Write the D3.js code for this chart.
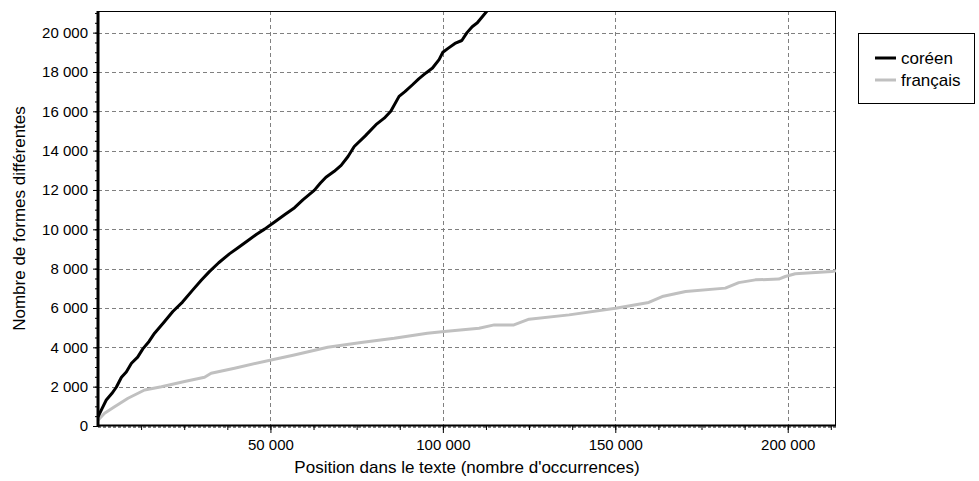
<!DOCTYPE html>
<html>
<head>
<meta charset="utf-8">
<script src="https://cdn.jsdelivr.net/npm/d3@7"></script>
<style>
body{margin:0;background:#fff;}
svg text{font-family:"Liberation Sans",Arial,sans-serif;fill:#000;}
</style>
</head>
<body>
<svg id="chart" width="979" height="481"></svg>
<script>
//courbe de richesse lexicale coréen / français

var WIDTH=979, HEIGHT=481;
var margin={left:98,top:11,right:143,bottom:55};
var TICKFONT=15, TITLEFONT=17;

//séries (position, nombre de formes)
var coreenX=[0,1200,2400,4000,5300,6800,8200,9700,11500,13000,14800,16400,19000,21700,24500,27500,30000,32300,35000,38100,40500,43400,46000,48300,51000,54100,57000,59400,62700,64500,66100,68500,70500,72500,74300,77500,80600,83000,84900,87300,89000,91200,93000,95100,97000,98900,100000,101500,103500,105500,107000,108500,110000,112800,116000];
var coreenY=[470,900,1320,1650,1970,2480,2750,3190,3500,3920,4300,4720,5250,5820,6300,6920,7420,7850,8300,8750,9050,9420,9750,10010,10350,10740,11100,11500,11980,12350,12650,12950,13250,13700,14210,14750,15320,15650,16000,16760,17000,17350,17650,17950,18200,18630,19000,19200,19450,19600,20000,20300,20500,21100,21600];

var francaisX=[0,1900,4800,8700,13500,18400,25100,30900,32800,39600,50200,56900,66600,76300,85900,95500,100400,110500,114900,120600,125000,136600,150100,159700,163600,170400,181900,185800,190600,197400,199300,202200,212800,214000];
var francaisY=[300,650,980,1410,1830,2000,2260,2480,2680,2940,3360,3610,4000,4240,4460,4720,4800,4970,5140,5140,5430,5650,5990,6280,6580,6840,7010,7290,7430,7470,7600,7740,7850,7900];

var seriesNames=["coréen","français"];
var seriesColors=["#000000","#c0c0c0"];

var xMajor=[50000,100000,150000,200000];
var yMajor=[0,2000,4000,6000,8000,10000,12000,14000,16000,18000,20000];

var xTitle="Position dans le texte (nombre d'occurrences)";
var yTitle="Nombre de formes différentes";

var svg=d3.select("#chart");
var W=WIDTH-margin.left-margin.right, H=HEIGHT-margin.top-margin.bottom;

var x=d3.scaleLinear().domain([0,214000]).range([0,W]);
var y=d3.scaleLinear().domain([0,21100]).range([H,0]);

//séparateur de milliers = espace
var fmt=d3.formatLocale({decimal:",",thousands:" ",grouping:[3],currency:["",""]}).format(",d");

var g=svg.append("g").attr("transform","translate("+margin.left+","+margin.top+")");

//grille pointillée
g.append("g").selectAll("line").data(yMajor.filter(d=>d>0)).enter().append("line")
    .attr("x1",0).attr("x2",W)
    .attr("y1",d=>Math.round(y(d))+0.5).attr("y2",d=>Math.round(y(d))+0.5)
    .attr("stroke","#808080").attr("stroke-dasharray","4,3");
g.append("g").selectAll("line").data(xMajor).enter().append("line")
    .attr("y1",0).attr("y2",H)
    .attr("x1",d=>Math.round(x(d))+0.5).attr("x2",d=>Math.round(x(d))+0.5)
    .attr("stroke","#808080").attr("stroke-dasharray","4,3");

//cadre haut / droite
g.append("line").attr("x1",0).attr("x2",W).attr("y1",0.5).attr("y2",0.5).attr("stroke","#000");
g.append("line").attr("x1",W-0.5).attr("x2",W-0.5).attr("y1",0).attr("y2",H).attr("stroke","#000");

//courbes
svg.append("clipPath").attr("id","clip").append("rect").attr("width",W).attr("height",H);
var line=d3.line().x(d=>x(d[0])).y(d=>y(d[1]));
var series=[d3.zip(coreenX,coreenY),d3.zip(francaisX,francaisY)];
g.append("g").attr("clip-path","url(#clip)").selectAll("path").data(series.slice().reverse()).enter().append("path")
    .attr("d",line)
    .attr("fill","none")
    .attr("stroke",(d,i)=>seriesColors[1-i])
    .attr("stroke-width",3)
    .attr("stroke-linejoin","round");

//axe Y
var yAxis=d3.axisLeft(y).tickValues(yMajor).tickFormat(fmt).tickSize(5).tickPadding(5);
var ya=g.append("g").call(yAxis);
ya.select(".domain").remove();
ya.selectAll("text").attr("font-size",TICKFONT).attr("font-family",null);
var yMinor=d3.axisLeft(y).tickValues(d3.range(500,21100,500)).tickFormat("").tickSize(3);
g.append("g").call(yMinor).select(".domain").remove();
g.append("line").attr("x1",0).attr("x2",0).attr("y1",0).attr("y2",H+1).attr("stroke","#000").attr("stroke-width",3);

//axe X
var xAxis=d3.axisBottom(x).tickValues(xMajor).tickFormat(fmt).tickSize(7).tickPadding(6);
var xa=g.append("g").attr("transform","translate(0,"+H+")").call(xAxis);
xa.select(".domain").remove();
xa.selectAll("text").attr("font-size",TICKFONT).attr("font-family",null);
var xMinor=d3.axisBottom(x).tickValues(d3.range(12500,214000,12500)).tickFormat("").tickSize(4);
g.append("g").attr("transform","translate(0,"+H+")").call(xMinor).select(".domain").remove();
g.append("line").attr("x1",-1).attr("x2",W).attr("y1",H-0.5).attr("y2",H-0.5).attr("stroke","#000").attr("stroke-width",2);
g.append("line").attr("x1",0).attr("x2",W).attr("y1",H+1).attr("y2",H+1).attr("stroke","#000").attr("stroke-dasharray","3,2");

//titres
svg.append("text").attr("x",margin.left+W/2).attr("y",473).attr("text-anchor","middle").attr("font-size",TITLEFONT).text(xTitle);
svg.append("text").attr("transform","translate(25,"+(margin.top+H/2)+") rotate(-90)").attr("text-anchor","middle").attr("font-size",TITLEFONT).text(yTitle);

//légende
var legend=svg.append("g").attr("class","legend");
legend.append("rect").attr("x",858.5).attr("y",33.5).attr("width",116).attr("height",70).attr("fill","#fff").attr("stroke","#000");
var items=legend.selectAll("g.item").data(seriesNames).enter().append("g").attr("class","item")
    .attr("transform",(d,i)=>"translate(875,"+(58+i*22)+")");
items.append("line").attr("x1",0).attr("x2",21).attr("stroke",(d,i)=>seriesColors[i]).attr("stroke-width",3);
items.append("text").attr("x",26).attr("dy","0.35em").attr("font-size",TITLEFONT).text(d=>d);
</script>
</body>
</html>
